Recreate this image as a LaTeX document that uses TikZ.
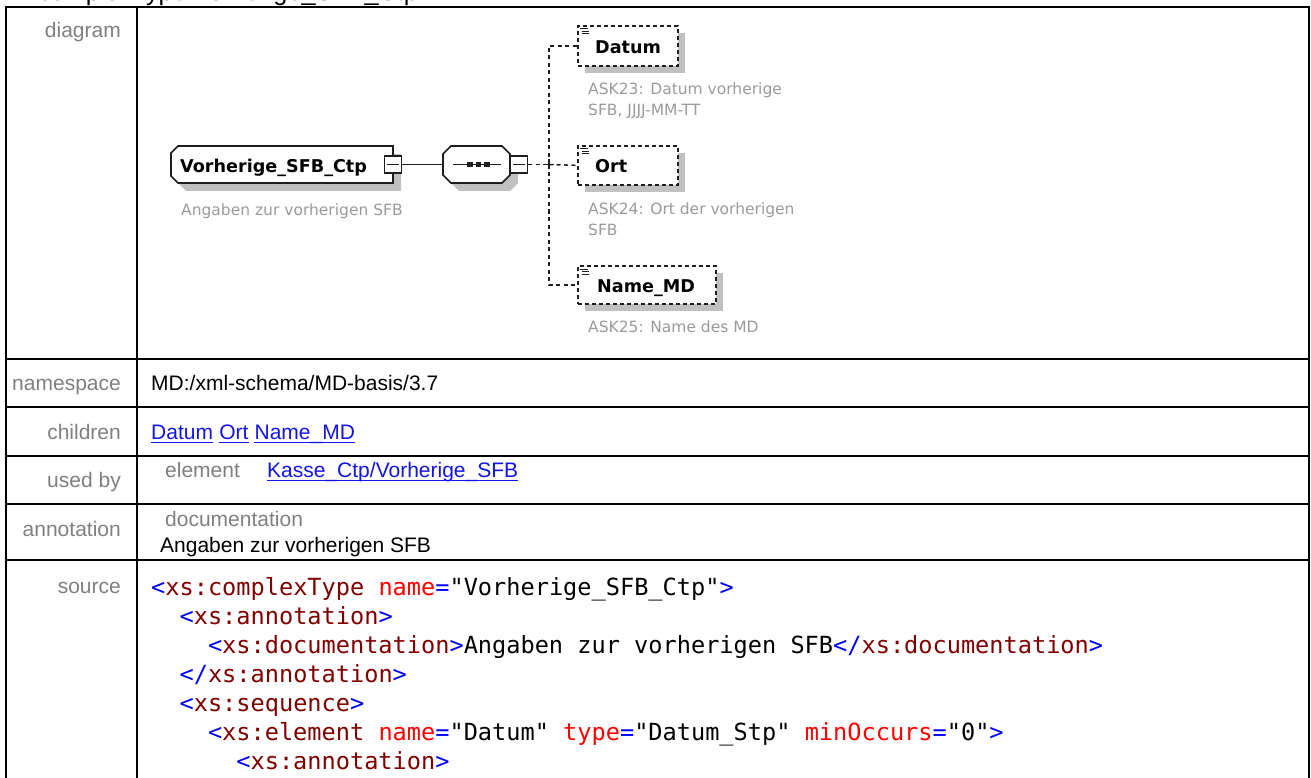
\documentclass[tikz,border=0pt]{standalone}
\usepackage{fontspec}
\setmainfont{Liberation Sans}
\newfontfamily\xdjv{DejaVu Sans}
\newfontfamily\xdjm{DejaVu Sans Mono}
\usetikzlibrary{calc}
\definecolor{lblgray}{RGB}{128,128,128}
\definecolor{descgray}{RGB}{155,155,155}
\definecolor{shadowgray}{RGB}{192,192,192}
\definecolor{linkblue}{RGB}{20,20,230}
\definecolor{srcblue}{RGB}{0,0,255}
\definecolor{srcred}{RGB}{128,0,0}
\definecolor{attrred}{RGB}{255,0,0}
\definecolor{edge}{RGB}{30,30,30}
\newcommand{\xtblf}{\fontsize{21}{25}\selectfont}
\newcommand{\xsrcf}{\xdjm\fontsize{23.6}{29}\selectfont}
\newcommand{\xnmf}{\xdjv\bfseries\fontsize{17.6}{21}\selectfont}
\newcommand{\xdsf}{\xdjv\fontsize{15.5}{21}\selectfont}
\newcommand{\xbl}[1]{\textcolor{srcblue}{#1}}
\newcommand{\xtg}[1]{\textcolor{srcred}{#1}}
\newcommand{\xat}[1]{\textcolor{attrred}{#1}}
\newcommand{\xicon}[2]{%
  \draw[line width=1pt,edge] (#1+3,#2+4) -- (#1+11,#2+4);
  \draw[line width=1pt,edge] (#1+5,#2+6.5) -- (#1+12,#2+6.5);
  \draw[line width=1pt,edge] (#1+5,#2+9) -- (#1+12,#2+9);}
\begin{document}
\begin{tikzpicture}[x=1pt,y=-1pt,
  tline/.style={line width=2.4pt, black},
  lbl/.style={anchor=base east, text=lblgray, font=\xtblf, inner sep=0},
  val/.style={anchor=base west, font=\xtblf, inner sep=0},
  lnk/.style={val, text=linkblue},
  uline/.style={linkblue, line width=1.5pt},
  srcline/.style={anchor=base west, font=\xsrcf, inner sep=0},
  shapeline/.style={draw=edge, line width=1.6pt},
  minusbox/.style={draw=edge, line width=1.4pt, fill=white, minimum size=17pt, inner sep=0},
  childbox/.style={draw=edge, line width=1.7pt, dash pattern=on 4pt off 3pt, fill=white, inner sep=0, anchor=north west},
  conn/.style={draw=edge, line width=1.5pt},
  dconn/.style={conn, dash pattern=on 4pt off 3.5pt},
  nm/.style={font=\xnmf, inner sep=0, anchor=base west},
  desc/.style={font=\xdsf, text=descgray, inner sep=0, anchor=north west, align=left},
]
\useasboundingbox (0,0) rectangle (1311,778);
\fill[white] (0,0) rectangle (1311,778);
% partially visible title (cut off at the top, as in the reference)
\node[anchor=base west, font=\fontsize{25.2}{30}\selectfont, inner sep=0] (title) at (38,1) {complexType Vorherige\_SFB\_Ctp};
% table frame
\draw[tline] (6,7) -- (1309,7);
\draw[tline] (6,5.8) -- (6,790);
\draw[tline] (1309,5.8) -- (1309,790);
\draw[tline] (137,7) -- (137,790);
\foreach \yy in {359,407,456,504,560} \draw[tline] (6,\yy) -- (1309,\yy);
% row labels
\node[lbl] (ldiag) at (121,38) {diagram};
\node[lbl] (lns) at (121,390) {namespace};
\node[lbl] (lch) at (121,439) {children};
\node[lbl] (lub) at (121,487) {used by};
\node[lbl] (lann) at (121,536) {annotation};
\node[lbl] (lsrc) at (121,593) {source};
% namespace
\node[val] (ns) at (151,390) {MD:/xml-schema/MD-basis/3.7};
% children links
\node[lnk] (c1) at (151,439) {Datum};
\node[lnk] (c2) at ([xshift=5.8pt]c1.base east) {Ort};
\node[lnk] (c3) at ([xshift=5.8pt]c2.base east) {Name\_MD};
\foreach \cc in {c1,c2,c3} \draw[uline] ([yshift=-3.6pt]\cc.base west) -- ([yshift=-3.6pt]\cc.base east);
% used by
\node[val, text=lblgray] (ubel) at (165,477) {element};
\node[lnk] (ubl) at (267,477) {Kasse\_Ctp/Vorherige\_SFB};
\draw[uline] ([yshift=-3.6pt]ubl.base west) -- ([yshift=-3.6pt]ubl.base east);
% annotation
\node[val, text=lblgray] (andoc) at (165,526) {documentation};
\node[val] (antx) at (160,552) {Angaben zur vorherigen SFB};
% source
\node[srcline] (s1) at (151,595.5) {\xbl{<}\xtg{xs:complexType} \xat{name}\xbl{=}"Vorherige\_SFB\_Ctp"\xbl{>}};
\node[srcline] (s2) at (179.4,624.5) {\xbl{<}\xtg{xs:annotation}\xbl{>}};
\node[srcline] (s3) at (207.8,653.5) {\xbl{<}\xtg{xs:documentation}\xbl{>}Angaben zur vorherigen SFB\xbl{</}\xtg{xs:documentation}\xbl{>}};
\node[srcline] (s4) at (179.4,682.5) {\xbl{</}\xtg{xs:annotation}\xbl{>}};
\node[srcline] (s5) at (179.4,711.5) {\xbl{<}\xtg{xs:sequence}\xbl{>}};
\node[srcline] (s6) at (207.8,740.5) {\xbl{<}\xtg{xs:element} \xat{name}\xbl{=}"Datum" \xat{type}\xbl{=}"Datum\_Stp" \xat{minOccurs}\xbl{=}"0"\xbl{>}};
\node[srcline] (s7) at (236.2,769.5) {\xbl{<}\xtg{xs:annotation}\xbl{>}};
% ===== diagram =====
% main element
\fill[shadowgray] (186,154) -- (401,154) -- (401,191) -- (186,191) -- (179,184) -- (179,161) -- cycle;
\draw[shapeline, fill=white] (178,146) -- (393,146) -- (393,183) -- (178,183) -- (171,176) -- (171,153) -- cycle;
\node[inner sep=0, minimum width=222pt, minimum height=37pt] (elem) at (282,164.5) {};
\node[nm] (elemt) at (180,173) {Vorherige\_SFB\_Ctp};
\node[minusbox] (elemm) at (393,164.5) {};
\draw[line width=1.2pt, edge] ([xshift=3pt]elemm.west) -- ([xshift=-3pt]elemm.east);
\node[desc] (elemd) at (181,204) {Angaben zur vorherigen SFB};
% sequence
\fill[shadowgray] (459,154) -- (510,154) -- (518,162) -- (518,183) -- (510,191) -- (459,191) -- (451,183) -- (451,162) -- cycle;
\draw[shapeline, fill=white] (451,146) -- (502,146) -- (510,154) -- (510,175) -- (502,183) -- (451,183) -- (443,175) -- (443,154) -- cycle;
\node[inner sep=0, minimum width=67pt, minimum height=37pt] (seq) at (476.5,164.5) {};
\draw[conn] (elemm.east) -- (seq.west);
\draw[conn] (453,164.5) -- (501,164.5);
\fill[edge] (467,162) rectangle (472.5,167);
\fill[edge] (475.5,162) rectangle (481,167);
\fill[edge] (484,162) rectangle (489.5,167);
\node[minusbox] (seqm) at (519,164.5) {};
\draw[line width=1.2pt, edge] ([xshift=3pt]seqm.west) -- ([xshift=-3pt]seqm.east);
% children boxes
\fill[shadowgray] (585,33) rectangle (685,73);
\node[childbox, minimum width=100pt, minimum height=40pt] (datum) at (577,25) {};
\node[nm] (datumt) at (595,53.5) {Datum};
\xicon{577}{25}
\node[desc] (datumd) at (588,83) {ASK23: Datum vorherige\\SFB, JJJJ-MM-TT};
\fill[shadowgray] (585,153) rectangle (685,192);
\node[childbox, minimum width=100pt, minimum height=39pt] (ort) at (577,145) {};
\node[nm] (ortt) at (595,173) {Ort};
\xicon{577}{145}
\node[desc] (ortd) at (588,203) {ASK24: Ort der vorherigen\\SFB};
\fill[shadowgray] (585,273) rectangle (723,311);
\node[childbox, minimum width=138pt, minimum height=38pt] (namemd) at (577,265) {};
\node[nm] (namemdt) at (597,292.5) {Name\_MD};
\xicon{577}{265}
\node[desc] (namemdd) at (588,321) {ASK25: Name des MD};
% connectors
\coordinate (jn) at (549,164.5);
\draw[dconn] (seqm.east) -- (jn);
\draw[dconn] (jn) |- (datum.west);
\draw[dconn] (jn) -- (ort.west);
\draw[dconn] (jn) |- (namemd.west);
\draw[conn] ([xshift=-5pt]jn) -- ([xshift=5pt]jn);
\draw[conn] ([yshift=-5pt]jn) -- ([yshift=5pt]jn);
\end{tikzpicture}
\end{document}
